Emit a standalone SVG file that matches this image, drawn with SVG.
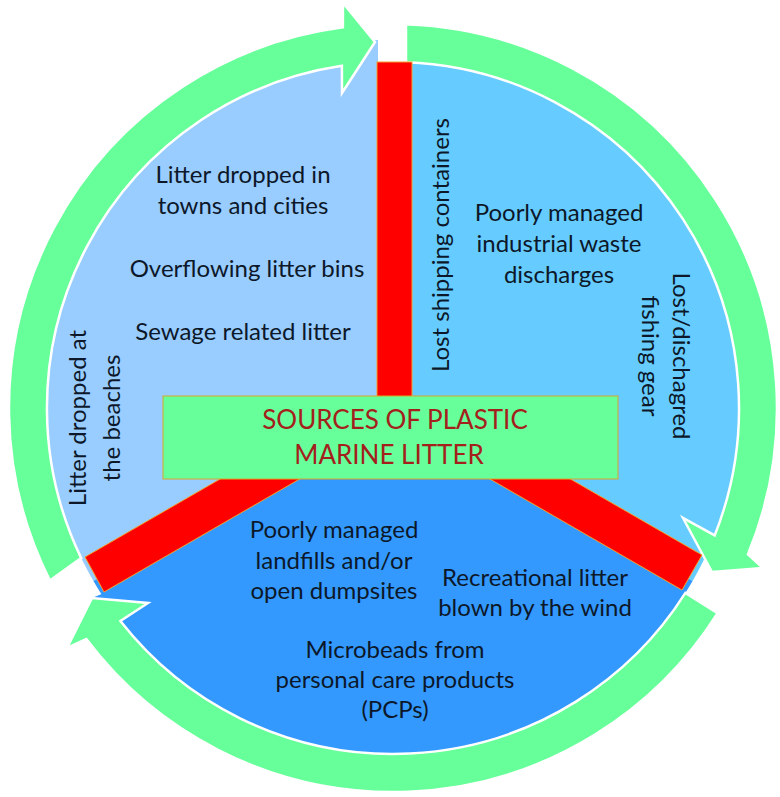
<svg xmlns="http://www.w3.org/2000/svg" width="780" height="797" viewBox="0 0 780 797">
<style>
.t{font-family:Lato,'Liberation Sans',sans-serif;font-size:24px;fill:#0c1829;text-anchor:middle}
.title{font-family:Lato,'Liberation Sans',sans-serif;font-size:26px;fill:#a4201c;text-anchor:middle}
.arrow{fill:#66ff99;stroke:#ffffff;stroke-width:2.5;stroke-linejoin:miter}
.bar{fill:#ff0000;stroke:#f0a030;stroke-width:1}
</style>
<rect width="780" height="797" fill="#ffffff"/>
<g id="sector-left">
<path d="M393,408 L93.4,581 A346,346 0 0 1 393,62 Z" fill="#99ccff"/>
<polygon points="375,40 378,40 378,100 340,95" fill="#99ccff"/>
</g>
<g id="sector-right">
<path d="M393,408 L393,62 A346,346 0 0 1 692.6,581 Z" fill="#66ccff"/>
<polygon points="683,518 712,572 702,556 670,530" fill="#66ccff"/>
</g>
<g id="sector-bottom">
<path d="M393,408 L692.6,581 A346,346 0 0 1 93.4,581 Z" fill="#3399ff"/>
<polygon points="92,598 104,593 135,582 148,603" fill="#3399ff"/>
</g>
<g id="connectors">
<path class="arrow" d="M49.9,580.5 A384,384 0 0 1 342.9,27.3 L343,3 L375,42 L342,93 L341.9,65.8 A346,346 0 0 0 81.2,558.1 Z"/>
<path class="arrow" d="M406,24.2 A384,384 0 0 1 748,554.3 L763,568 L712,572 L683,518 L714.7,535.4 A346,346 0 0 0 406,62.2 Z"/>
<path class="arrow" d="M717.6,613.2 A384,384 0 0 1 86.3,639.1 L67,648 L92,598 L148,603 L120.4,621 A346,346 0 0 0 685.4,592.9 Z"/>
</g>
<g id="bars">
<rect class="bar" x="377" y="62" width="35" height="340"/>
<polygon class="bar" points="537.5,460 702,555 682,590 457,460"/>
<polygon class="bar" points="253,460 85,557 104,592 332.6,460"/>
</g>
<g id="center-box">
<rect x="163" y="396" width="455" height="83" fill="#66ff99" stroke="#d9a52a" stroke-width="1"/>
<text class="title" x="395" y="429">SOURCES OF PLASTIC</text>
<text class="title" x="389" y="464">MARINE LITTER</text>
</g>
<g id="node-left">
<text class="t" x="243" y="183">Litter dropped in</text>
<text class="t" x="243" y="214">towns and cities</text>
<text class="t" x="247" y="277">Overflowing  litter bins</text>
<text class="t" x="243" y="340">Sewage related litter</text>
<text class="t" transform="translate(86,418) rotate(-90)">Litter dropped at</text>
<text class="t" transform="translate(120,418) rotate(-90)">the beaches</text>
</g>
<g id="node-right">
<text class="t" transform="translate(449,245) rotate(-90)">Lost shipping containers</text>
<text class="t" x="559" y="221">Poorly managed</text>
<text class="t" x="559" y="252">industrial waste</text>
<text class="t" x="559" y="283">discharges</text>
<text class="t" transform="translate(673,356) rotate(90)">Lost/dischagred</text>
<text class="t" transform="translate(642,356) rotate(90)">fishing gear</text>
</g>
<g id="node-bottom">
<text class="t" x="334" y="538">Poorly managed</text>
<text class="t" x="334" y="569">landfills and/or</text>
<text class="t" x="334" y="599">open dumpsites</text>
<text class="t" x="535" y="586">Recreational  litter</text>
<text class="t" x="535" y="616">blown by the wind</text>
<text class="t" x="395" y="658">Microbeads from</text>
<text class="t" x="395" y="688">personal  care products</text>
<text class="t" x="395" y="718">(PCPs)</text>
</g>
</svg>
